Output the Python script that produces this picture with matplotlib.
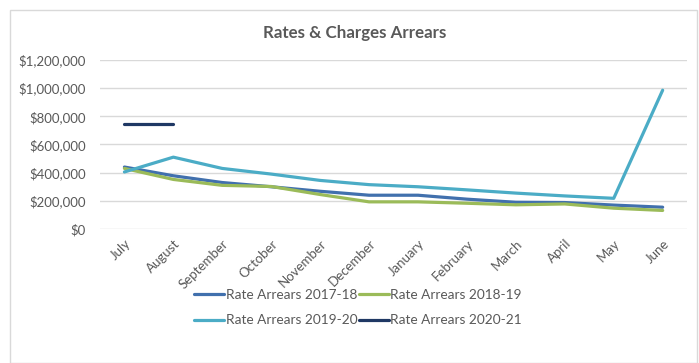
import matplotlib.pyplot as plt
from matplotlib.patches import Rectangle
from matplotlib.ticker import FuncFormatter

months = ["July", "August", "September", "October", "November", "December",
          "January", "February", "March", "April", "May", "June"]

arrears_1718 = [440000, 378000, 330000, 300000, 268000, 240000,
                240000, 212000, 190000, 188000, 170000, 155000]
arrears_1819 = [430000, 352000, 310000, 302000, 245000, 193000,
                193000, 183000, 172000, 178000, 148000, 132000]
arrears_1920 = [405000, 510000, 430000, 390000, 345000, 315000,
                300000, 278000, 255000, 235000, 218000, 985000]
arrears_2021 = [745000, 745000]

series_names = ["Rate Arrears 2017-18", "Rate Arrears 2018-19",
                "Rate Arrears 2019-20", "Rate Arrears 2020-21"]
colors = ["#4170AD", "#9BBB59", "#4BACC6", "#1F3864"]

plt.rcParams['font.family'] = ['Lato', 'DejaVu Sans']

fig = plt.figure(figsize=(6.99, 3.63), dpi=100)
ax = fig.add_axes([0.143, 0.369, 0.840, 0.466])

# chart frame
fig.patches.append(Rectangle((10 / 699, 0), 687 / 699, 1 - 10 / 363,
                             transform=fig.transFigure, fill=False,
                             edgecolor="#D9D9D9", linewidth=1))

x = list(range(len(months)))
data = [arrears_1718, arrears_1819, arrears_1920, arrears_2021]
lines = []
for vals, name, c in zip(data, series_names, colors):
    ln, = ax.plot(x[:len(vals)], vals, color=c, linewidth=2.3, label=name,
                  solid_capstyle="round")
    lines.append(ln)

ax.set_xlim(-0.5, 11.5)
ax.set_ylim(0, 1200000)
ax.set_yticks(range(0, 1200001, 200000))
ax.yaxis.set_major_formatter(FuncFormatter(lambda v, p: "${:,.0f}".format(v)))
ax.set_xticks(x)
ax.set_xticklabels(months, rotation=45, ha="right", rotation_mode="anchor")
ax.tick_params(length=0, labelsize=9.5, colors="#595959")
ax.tick_params(axis="x", pad=6)
ax.tick_params(axis="y", pad=10)
ax.grid(axis="y", color="#D9D9D9", linewidth=1)
ax.set_axisbelow(True)
for s in ax.spines.values():
    s.set_visible(False)

fig.text(0.508, 0.91, "Rates & Charges Arrears", ha="center", va="center",
         fontsize=12.2, fontweight="bold", color="#595959")

# row-wise legend order
order = [0, 2, 1, 3]
fig.legend([lines[i] for i in order], [series_names[i] for i in order],
           loc="center", bbox_to_anchor=(0.512, 0.153), ncol=2,
           frameon=False, fontsize=9.8, handlelength=2.2, handletextpad=0.1,
           columnspacing=0.1, labelspacing=1.0, labelcolor="#595959")

fig.savefig("out.png", dpi=100)
